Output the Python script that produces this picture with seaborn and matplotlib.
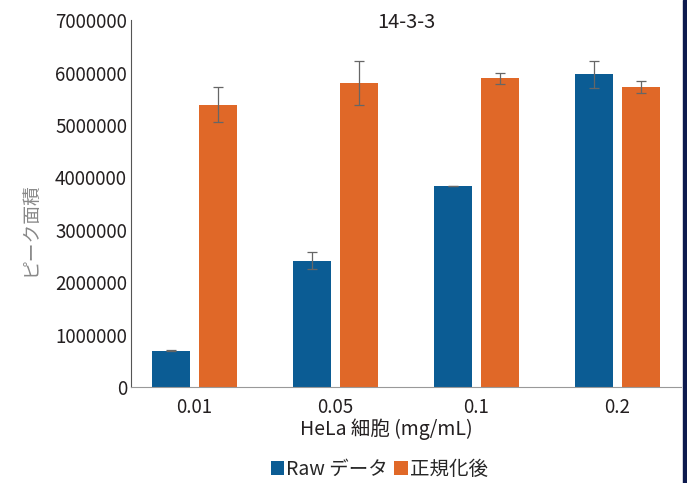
import seaborn as sns
import pandas as pd
import matplotlib.pyplot as plt
from matplotlib.patches import Rectangle

# values
concs = ["0.01", "0.05", "0.1", "0.2"]
raw_vals = [690000, 2410000, 3840000, 5970000]
raw_err = [5000, 160000, 5000, 255000]
norm_vals = [5390000, 5810000, 5890000, 5720000]
norm_err = [340000, 420000, 100000, 115000]
series = ["Raw データ", "正規化後"]
colors = ["#0b5c94", "#e06828"]

df = pd.DataFrame({
    "conc": concs * 2,
    "value": raw_vals + norm_vals,
    "err": raw_err + norm_err,
    "series": [series[0]] * 4 + [series[1]] * 4,
})

sns.set_style("white")
plt.rcParams["font.family"] = ["Noto Sans CJK JP", "DejaVu Sans"]

fig, ax = plt.subplots(figsize=(6.87, 4.83), dpi=100)
fig.subplots_adjust(left=0.191, right=0.991, top=0.958, bottom=0.199)

sns.barplot(data=df, x="conc", y="value", hue="series", palette=colors,
            width=0.67, gap=0.2, errorbar=None, saturation=1, linewidth=0,
            ax=ax)

# error bars at the bar centres
for cont, s in zip(ax.containers, series):
    sub = df[df["series"] == s]
    xs = [p.get_x() + p.get_width() / 2 for p in cont.patches]
    tops = [p.get_height() for p in cont.patches]
    ax.errorbar(xs, tops, yerr=sub["err"].values, fmt="none",
                ecolor="#666666", elinewidth=0.9, capsize=3.5, capthick=0.9)

ax.set_ylim(0, 7000000)
ax.set_xlim(-0.45, 3.45)
ax.set_yticks(range(0, 7000001, 1000000))
ax.set_yticklabels([str(v) for v in range(0, 7000001, 1000000)])
ax.tick_params(axis="y", length=0, labelsize=13.5, colors="#231f20", pad=3)
ax.tick_params(axis="x", length=0, labelsize=13.5, colors="#231f20", pad=7)
ax.set_xlabel("HeLa 細胞 (mg/mL)", fontsize=14, color="#231f20")
ax.set_ylabel("ピーク面積", fontsize=13.5, color="#888888")
ax.xaxis.set_label_coords(0.464, -0.085)
ax.yaxis.set_label_coords(-0.166, 0.43)
ax.set_title("14-3-3", fontsize=14.5, color="#231f20", y=0.955)

for side in ["top", "right"]:
    ax.spines[side].set_visible(False)
ax.spines["left"].set_color("#555555")
ax.spines["bottom"].set_color("#999999")

ax.legend_.remove()
handles, labels = ax.get_legend_handles_labels()
fig.legend(handles, labels, loc="lower center", bbox_to_anchor=(0.552, -0.03),
           ncol=2, frameon=False, fontsize=14, handlelength=0.7,
           handleheight=0.7, handletextpad=0.1, columnspacing=0.3)

# dark strip on the right edge
fig.patches.append(Rectangle((0.994, 0), 0.006, 1, transform=fig.transFigure,
                             color="#0d1a4e", zorder=0))

plt.savefig("out.png", dpi=100)
